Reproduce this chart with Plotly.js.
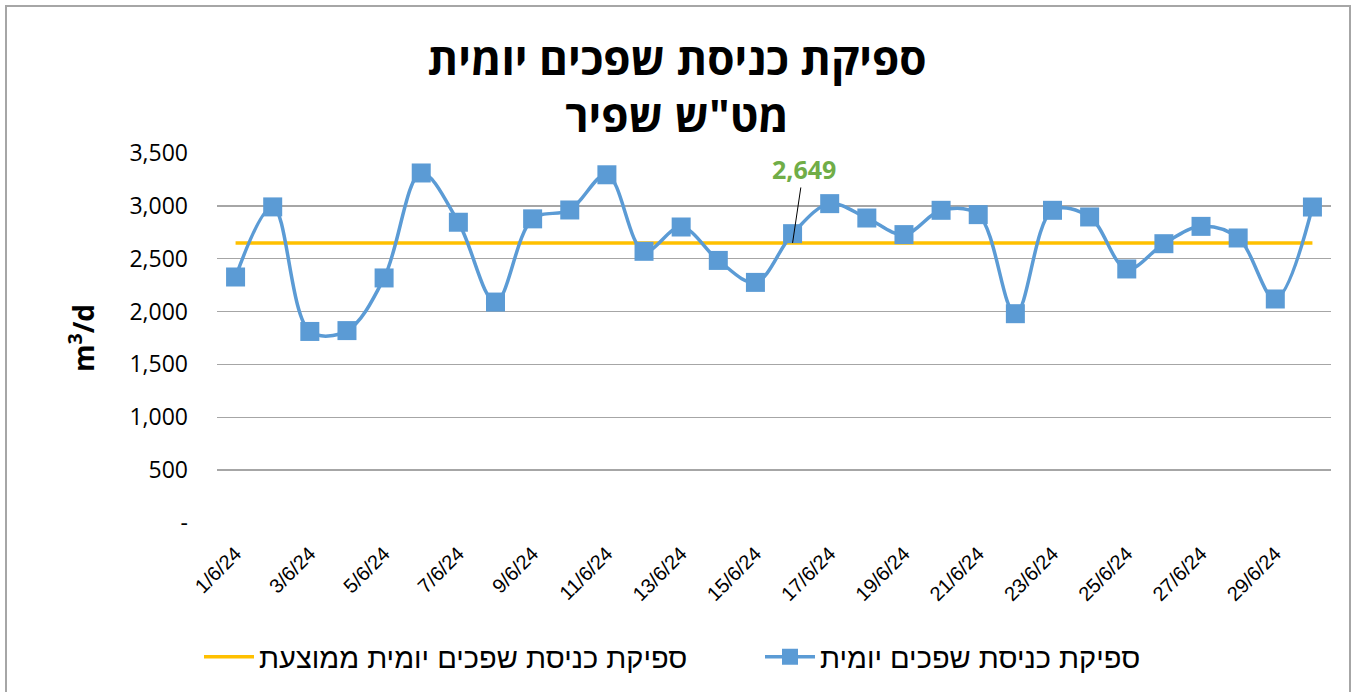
<!DOCTYPE html>
<html>
<head>
<meta charset="utf-8">
<script src="https://cdn.plot.ly/plotly-3.0.1.min.js"></script>
<style>
  html, body { margin: 0; padding: 0; background: #ffffff; }
  #chart { width: 1354px; height: 692px; position: absolute; left: 0; top: 0; }
  #frame { position: absolute; left: 5px; top: 5px; width: 1346px; height: 700px;
           border: 2px solid #a6a6a6; pointer-events: none; box-sizing: border-box; }
</style>
</head>
<body>
<div id="chart"></div>
<div id="frame"></div>
<script>
// ---- data ----
const dates = ["1/6/24","2/6/24","3/6/24","4/6/24","5/6/24","6/6/24","7/6/24","8/6/24","9/6/24","10/6/24",
               "11/6/24","12/6/24","13/6/24","14/6/24","15/6/24","16/6/24","17/6/24","18/6/24","19/6/24","20/6/24",
               "21/6/24","22/6/24","23/6/24","24/6/24","25/6/24","26/6/24","27/6/24","28/6/24","29/6/24","30/6/24"];
const dailyFlow = [2327, 2990, 1812, 1820, 2318, 3311, 2845, 2090, 2877, 2961,
                   3294, 2570, 2800, 2484, 2276, 2737, 3021, 2885, 2728, 2958,
                   2917, 1980, 2958, 2895, 2403, 2642, 2806, 2696, 2119, 2989];
const averageFlow = [2649, 2649, 2649, 2649, 2649, 2649, 2649, 2649, 2649, 2649,
                     2649, 2649, 2649, 2649, 2649, 2649, 2649, 2649, 2649, 2649,
                     2649, 2649, 2649, 2649, 2649, 2649, 2649, 2649, 2649, 2649];
const averageLabelIndex = 15;
const averageLabel = "2,649";
const xTickVals = ["1/6/24","3/6/24","5/6/24","7/6/24","9/6/24","11/6/24","13/6/24","15/6/24",
                   "17/6/24","19/6/24","21/6/24","23/6/24","25/6/24","27/6/24","29/6/24"];
const yTickVals = [0, 500, 1000, 1500, 2000, 2500, 3000, 3500];
const yTickText = ["-", "500", "1,000", "1,500", "2,000", "2,500", "3,000", "3,500"];
const seriesNames = ["ספיקת כניסת שפכים יומית", "ספיקת כניסת שפכים יומית ממוצעת"];
const titleText = "ספיקת כניסת שפכים יומית<br>מט\"ש שפיר";

// ---- chart ----
const traces = [
  {
    x: dates, y: averageFlow, name: seriesNames[1], type: "scatter", mode: "lines",
    line: { color: "#FFC000", width: 3.5 }, legendrank: 1, legendwidth: 496, hoverinfo: "skip"
  },
  {
    x: dates, y: dailyFlow, name: seriesNames[0], type: "scatter", mode: "lines+markers",
    line: { color: "#5B9BD5", width: 3.5, shape: "spline", smoothing: 1 },
    marker: { symbol: "square", size: 19, color: "#5B9BD5" }, legendrank: 2, legendwidth: 330
  }
];

const layout = {
  width: 1354, height: 692,
  margin: { l: 217, r: 23, t: 153, b: 169 },
  paper_bgcolor: "#ffffff", plot_bgcolor: "#ffffff",
  title: {
    text: titleText, x: 0.5, xref: "container", xanchor: "center",
    y: 1 - 75 / 692, yref: "container", yanchor: "top",
    font: { family: "Open Sans, Liberation Sans, sans-serif", size: 44, color: "#000000", weight: 700 }
  },
  xaxis: {
    type: "category", range: [-0.5, 29.5], tickmode: "array", tickvals: xTickVals, ticktext: xTickVals,
    tickangle: -45, ticks: "", showgrid: false, zeroline: false, showline: false,
    tickfont: { family: "Liberation Sans, Arial, sans-serif", size: 20, color: "#000000" },
    ticklabelstandoff: 14
  },
  yaxis: {
    range: [0, 3500], tickmode: "array", tickvals: yTickVals, ticktext: yTickText,
    showgrid: true, gridcolor: "#a6a6a6", gridwidth: 1.3, zeroline: false, showline: false, ticks: "",
    tickfont: { family: "Open Sans, Liberation Sans, sans-serif", size: 23, color: "#000000" },
    ticklabelstandoff: 28,
    title: { text: "m<sup>3</sup>/d", standoff: 26,
             font: { family: "Open Sans, Liberation Sans, sans-serif", size: 28, color: "#000000", weight: 700 } }
  },
  showlegend: true,
  legend: {
    orientation: "h", xref: "container", x: 0.5, xanchor: "center",
    yref: "container", y: 1 - 657 / 692, yanchor: "middle",
    font: { family: "Liberation Sans, Arial, sans-serif", size: 29, color: "#000000" },
    itemwidth: 50, tracegroupgap: 0, bgcolor: "rgba(0,0,0,0)"
  },
  annotations: [{
    x: dates[averageLabelIndex], y: averageFlow[averageLabelIndex], xref: "x", yref: "y",
    text: "<b>" + averageLabel + "</b>", showarrow: true, arrowhead: 0, arrowwidth: 1, arrowcolor: "#000000",
    ax: 11, ay: -74, standoff: 0,
    font: { family: "Open Sans, Liberation Sans, sans-serif", size: 25, color: "#70AD47" }
  }],
  hovermode: false
};

Plotly.newPlot("chart", traces, layout, { staticPlot: true, displayModeBar: false });
</script>
</body>
</html>
